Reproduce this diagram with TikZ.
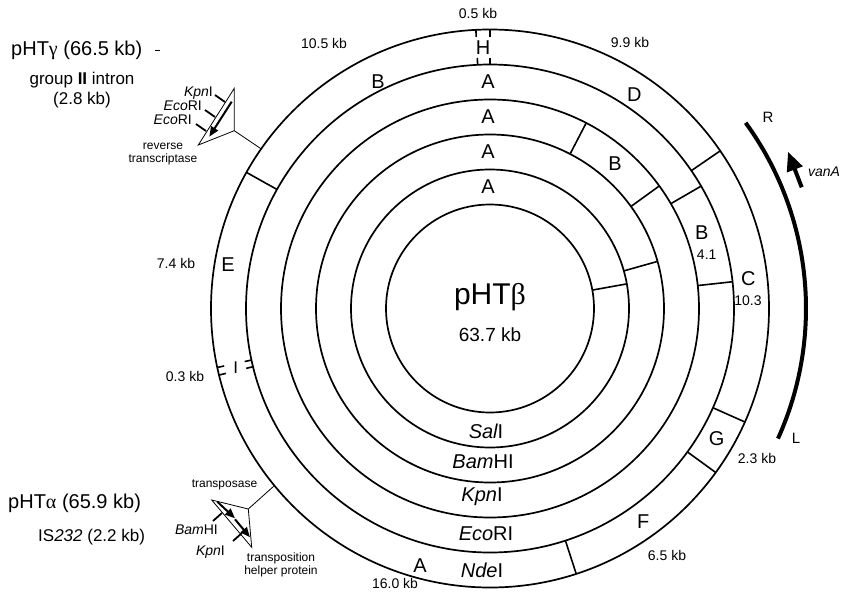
\documentclass[tikz,border=0pt]{standalone}
\usepackage{fontspec}
\setmainfont{Liberation Sans}
\newfontfamily\grk{Liberation Serif}
\usetikzlibrary{calc,arrows.meta}
\newcommand\radial[4][]{\draw[segline,#1] ($(C)+(#2:#3)$) -- ($(C)+(#2:#4)$);}
\newcommand\dashradial[3]{\draw[segline] ($(C)+(#1:#3)$) -- ($(C)+(#1:#3-7)$);\draw[segline] ($(C)+(#1:#2)$) -- ($(C)+(#1:#2+7)$);}
\begin{document}
\begin{tikzpicture}[x=1pt,y=1pt,
  ring/.style={line width=1.7pt},
  segline/.style={line width=1.6pt},
  thinline/.style={line width=0.8pt},
  lbl/.style={font=\fontsize{20}{20}\selectfont,inner sep=0pt},
  kb/.style={font=\fontsize{14}{14}\selectfont,inner sep=0pt},
  smalltxt/.style={font=\fontsize{12}{13.5}\selectfont,inner sep=0pt},
  enz/.style={font=\fontsize{14}{14}\selectfont,inner sep=0pt},
  title/.style={font=\fontsize{20}{20}\selectfont,inner sep=0pt},
  sub/.style={font=\fontsize{17}{20}\selectfont,inner sep=0pt,align=center},
  genearrow/.style={line width=2pt,-{Triangle[length=10pt,width=8pt]}},
  ticks/.style={line width=1.8pt}]
\useasboundingbox (0,0) rectangle (841,-597);
\coordinate (C) at (490,-308.5);
\foreach \r in {104,139,174,209,244,279} \draw[ring] (C) circle[radius=\r];
% outer ring (NdeI)
\radial{34.4}{244}{279}
\radial{-24}{244}{279}
\radial{-36}{244}{279}
\radial{-72}{244}{279}
\radial{150.8}{244}{279}
\dashradial{90}{244}{279}
\dashradial{92.9}{244}{279}
\dashradial{192.2}{244}{279}
\dashradial{193.8}{244}{279}
% ring 2 (EcoRI)
\radial{30.1}{209}{244}
\radial{6.3}{209}{244}
% ring 3 (KpnI)
\radial{62.6}{174}{209}
\radial{35.9}{174}{209}
% ring 4 (BamHI)
\radial{15.7}{139}{174}
% ring 5 (SalI)
\radial{10.2}{104}{139}
% vanA arc
\draw[line width=4pt] ($(C)+(36:316)$) coordinate (arcR) arc[start angle=36,end angle=-24.3,radius=316] coordinate (arcL);
\node[font=\fontsize{15}{15}\selectfont,inner sep=0pt] (Rl) at (768,-117) {R};
\node[font=\fontsize{15}{15}\selectfont,inner sep=0pt] (Ll) at (796,-438) {L};
\coordinate (va1) at (801.7,-187.3);
\coordinate (va2) at (788,-151.7);
\draw[line width=4pt,-{Triangle[length=19pt,width=16pt]}] (va1) -- (va2);
\node[kb] (vanA) at (824,-172) {\itshape vanA};
% center
\node[font=\fontsize{30}{30}\selectfont,inner sep=0pt] (beta) at (490,-297) {pHT{\grk β}};
\node[font=\fontsize{19}{19}\selectfont,inner sep=0pt] (betakb) at (490,-335) {63.7 kb};
% ring labels
\node[lbl] (H) at (483,-48) {H};
\node[lbl] (D) at ($(C)+(56:258)$) {D};
\node[lbl] (Bo) at (378,-82) {B};
\node[lbl] (E) at (228,-265) {E};
\node[lbl,font=\fontsize{17}{17}\selectfont] (I) at ($(C)+(193:261)$) {I};
\node[lbl] (Ao) at (420,-566) {A};
\node[lbl] (F) at (643.3,-521.7) {F};
\node[lbl] (G) at (716.7,-438.3) {G};
\node[lbl] (Co) at (748.3,-278.3) {C};
\node[kb] (C103) at (748,-300.7) {10.3};
\node[lbl] (A2) at (488,-81.7) {A};
\node[lbl] (B2) at (701.7,-233) {B};
\node[kb] (B41) at (706.7,-255) {4.1};
\node[lbl] (A3) at (488,-116.7) {A};
\node[lbl] (B3) at (615,-163.3) {B};
\node[lbl] (A4) at (488,-151.7) {A};
\node[lbl] (A5) at (488,-186.7) {A};
\node[lbl] (Sal) at (486,-431.7) {\itshape Sal\upshape I};
\node[lbl] (Bam) at (483,-461.7) {\itshape Bam\upshape HI};
\node[lbl] (Kpn) at (482,-496.7) {\itshape Kpn\upshape I};
\node[lbl] (Eco) at (486,-534) {\itshape Eco\upshape RI};
\node[lbl] (Nde) at (482,-570.7) {\itshape Nde\upshape I};
% size labels
\node[kb] (k05) at (478,-13) {0.5 kb};
\node[kb] (k105) at (324,-43) {10.5 kb};
\node[kb] (k99) at (630,-42) {9.9 kb};
\node[kb] (k74) at (176,-263) {7.4 kb};
\node[kb] (k03) at (185,-376) {0.3 kb};
\node[kb] (k160) at (395,-583) {16.0 kb};
\node[kb] (k65) at (667,-555) {6.5 kb};
\node[kb] (k23) at (757,-458) {2.3 kb};
% titles
\node[title,anchor=west] (gam) at (11,-50) {pHT{\grk γ} (66.5 kb)};
\draw[thinline] (155,-50) -- (160,-50);
\node[sub] (gii) at (82,-90) {group {\bfseries II} intron\\(2.8 kb)};
\node[title,anchor=west] (alp) at (8,-503) {pHT{\grk α} (65.9 kb)};
\node[sub,anchor=west] (is) at (38,-537) {IS{\itshape 232} (2.2 kb)};
% top callout
\coordinate (g1) at (234.3,-88.3);
\coordinate (g2) at (234.3,-130.7);
\coordinate (g3) at (198.3,-145);
\draw[thinline] (g1) -- (g2) -- (g3) -- cycle;
\draw[thinline] (g2) -- ($(C)+(145.1:279)$);
\draw[genearrow] (231.7,-101.7) -- (209.3,-136.7);
\draw[ticks] (215,-95) -- (225,-102);
\draw[ticks] (205,-110) -- (215,-117);
\draw[ticks] (196,-124) -- (206,-131);
\node[enz,anchor=east] (gk) at (213,-93) {\itshape Kpn\upshape I};
\node[enz,anchor=east] (ge1) at (202,-106) {\itshape Eco\upshape RI};
\node[enz,anchor=east] (ge2) at (192,-120) {\itshape Eco\upshape RI};
\node[smalltxt,align=center] (rt) at (163,-154) {reverse\\transcriptase};
% bottom callout
\coordinate (t1) at (211.7,-500);
\coordinate (t2) at (248.3,-509);
\coordinate (t3) at (251.7,-547.3);
\draw[thinline] (t1) -- (t2) -- (t3) -- cycle;
\draw[thinline] (t2) -- ($(C)+(219.4:279)$);
\draw[genearrow] (217.3,-501.7) -- (235,-518.3);
\draw[genearrow] (235,-519.3) -- (250,-537.3);
\draw[ticks] (213,-521) -- (222,-513);
\draw[ticks] (233,-541) -- (242,-533);
\node[smalltxt] (tp) at (224.5,-485) {transposase};
\node[enz,anchor=east] (tb) at (218,-530) {\itshape Bam\upshape HI};
\node[enz,anchor=east] (tk) at (225,-551.7) {\itshape Kpn\upshape I};
\node[smalltxt,align=center] (th) at (281,-565) {transposition\\helper protein};
\end{tikzpicture}
\end{document}
